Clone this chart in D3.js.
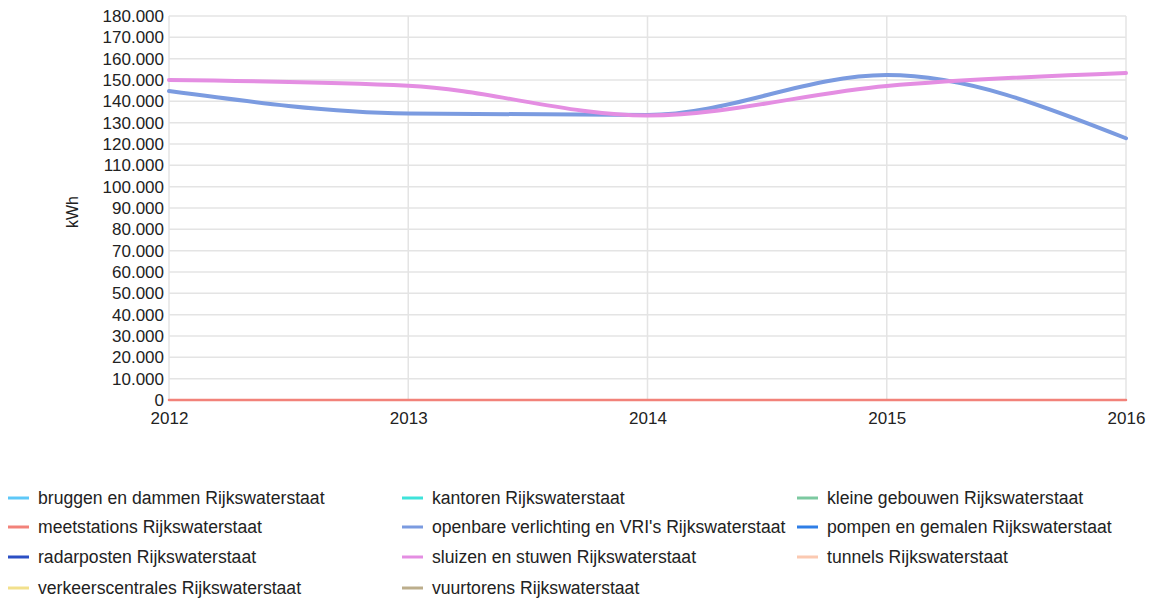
<!DOCTYPE html>
<html><head><meta charset="utf-8">
<script src="https://cdn.jsdelivr.net/npm/d3@7"></script>
<style>
body{margin:0;background:#fff;}
text{font-family:"Liberation Sans",Arial,sans-serif;}
</style></head>
<body><svg id="c" width="1150" height="601"></svg>
<script>
const years = [2012, 2013, 2014, 2015, 2016];
const yTicks = [0,10000,20000,30000,40000,50000,60000,70000,80000,90000,100000,110000,120000,130000,140000,150000,160000,170000,180000];
const seriesNames = [
  "bruggen en dammen Rijkswaterstaat","kantoren Rijkswaterstaat","kleine gebouwen Rijkswaterstaat",
  "meetstations Rijkswaterstaat","openbare verlichting en VRI's Rijkswaterstaat","pompen en gemalen Rijkswaterstaat",
  "radarposten Rijkswaterstaat","sluizen en stuwen Rijkswaterstaat","tunnels Rijkswaterstaat",
  "verkeerscentrales Rijkswaterstaat","vuurtorens Rijkswaterstaat"];
const seriesColors = ["#5ec8f8","#3fe3da","#7cc9a0","#f2827a","#7b9be0","#2f7ee6","#2b4fc4","#e48ee2","#fbc9b1","#f2e08c","#bcae8c"];
const meetstations = [0, 0, 0, 0, 0];
const openbare = [144800, 134300, 133600, 152300, 122700];
const sluizen = [150000, 147300, 133400, 147200, 153300];
const seriesValues = [null, null, null, meetstations, openbare, null, null, sluizen, null, null, null];

const svg = d3.select("#c");
const x = d3.scaleLinear().domain([2012, 2016]).range([169, 1126]);
const y = d3.scaleLinear().domain([0, 180000]).range([400, 16]);
const fmt = v => v === 0 ? "0" : d3.format(",")(v).replace(/,/g, ".");

// grid
svg.append("g").selectAll("line.h").data(yTicks).join("line")
  .attr("x1", 169).attr("x2", 1126).attr("y1", d => y(d)).attr("y2", d => y(d))
  .attr("stroke", "#e4e4e4").attr("stroke-width", 1.5);
svg.append("g").selectAll("line.v").data(years).join("line")
  .attr("x1", d => x(d)).attr("x2", d => x(d)).attr("y1", 16).attr("y2", 400)
  .attr("stroke", "#e4e4e4").attr("stroke-width", 1.5);

// axes
const ya = d3.axisLeft(y).tickValues(yTicks).tickFormat(fmt).tickSize(0).tickPadding(5);
const gy = svg.append("g").attr("transform", "translate(169,0)").call(ya);
gy.select(".domain").remove();
gy.selectAll("text").attr("font-size", 17).attr("fill", "#222").attr("font-family", "Liberation Sans, Arial, sans-serif");
const xa = d3.axisBottom(x).tickValues(years).tickFormat(d3.format("d")).tickSize(0).tickPadding(12);
const gx = svg.append("g").attr("transform", "translate(0,400)").call(xa);
gx.select(".domain").remove();
gx.selectAll("text").attr("font-size", 17).attr("fill", "#222").attr("font-family", "Liberation Sans, Arial, sans-serif");

svg.append("text").attr("transform", "translate(78,212) rotate(-90)").attr("text-anchor", "middle")
  .attr("font-size", 16).attr("fill", "#222").text("kWh");

// lines
const line = d3.line().x((d, i) => x(years[i])).y(d => y(d)).curve(d3.curveMonotoneX);
seriesValues.forEach((vals, i) => {
  if (!vals) return;
  svg.append("path").datum(vals).attr("d", line).attr("fill", "none")
    .attr("stroke", seriesColors[i]).attr("stroke-width", i === 3 ? 2.5 : 4).attr("stroke-linecap", "round");
});

// legend
const colX = [8, 402, 797];
const rowY = [498, 527, 557, 588];
const lg = svg.append("g").selectAll("g").data(seriesNames).join("g")
  .attr("transform", (d, i) => `translate(${colX[i % 3]},${rowY[Math.floor(i / 3)]})`);
lg.append("line").attr("x1", 0).attr("x2", 21).attr("stroke", (d, i) => seriesColors[i]).attr("stroke-width", 3);
lg.append("text").attr("x", 30).attr("dy", "0.35em").attr("font-size", 17.6).attr("fill", "#222").text(d => d);
</script></body></html>
